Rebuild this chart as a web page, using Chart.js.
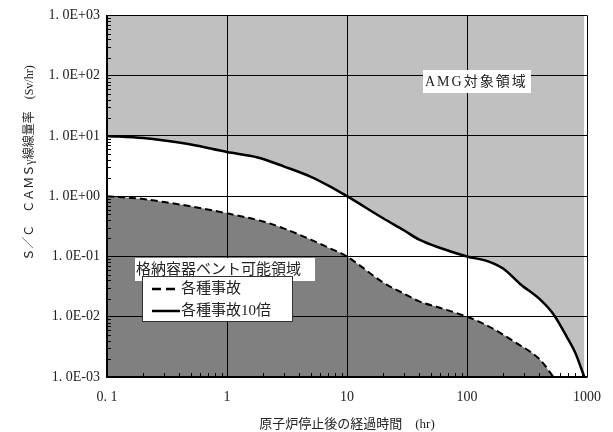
<!DOCTYPE html>
<html>
<head>
<meta charset="utf-8">
<script src="https://cdn.jsdelivr.net/npm/chart.js@4.4.1/dist/chart.umd.min.js"></script>
<style>
  html, body { margin: 0; padding: 0; background: #fff; }
  #wrap { width: 613px; height: 432px; }
</style>
</head>
<body>
<div id="wrap"><canvas id="chart" width="613" height="432"></canvas></div>
<script>
// data
const timeAll = [0.1, 0.2, 0.3, 0.5, 1, 2, 3, 5, 7, 10, 13, 20, 30, 40, 60, 100, 150, 240, 410, 525];
const doseAll = [1.0, 0.9, 0.8, 0.68, 0.52, 0.38, 0.29, 0.19, 0.14, 0.1, 0.069, 0.037, 0.024, 0.018, 0.014, 0.01, 0.007, 0.004, 0.0019, 0.001];
const time10x = [0.1, 0.2, 0.3, 0.5, 1, 1.8, 3, 5, 7, 10, 20, 30, 40, 60, 100, 150, 200, 277, 410, 525, 680, 800, 950];
const dose10x = [10, 9.2, 8.4, 7.2, 5.4, 4.4, 3.1, 2.1, 1.5, 1.0, 0.43, 0.27, 0.19, 0.138, 0.1, 0.083, 0.063, 0.035, 0.019, 0.011, 0.0046, 0.0025, 0.001];
const seriesNames = ["各種事故", "各種事故10倍"];
const xTicks = [0.1, 1, 10, 100, 1000];
const xTickLabels = ["0. 1", "1", "10", "100", "1000"];
const yTicks = [0.001, 0.01, 0.1, 1, 10, 100, 1000];
const yTickLabels = ["1. 0E-03", "1. 0E-02", "1. 0E-01", "1. 0E+00", "1. 0E+01", "1. 0E+02", "1. 0E+03"];
const regionLabels = ["AMG対象領域", "格納容器ベント可能領域"];
const xTitle = "原子炉停止後の経過時間　(hr)";
const yTitle = "Ｓ／Ｃ　ＣＡＭＳγ線線量率　(Sv/hr)";

const serif = "'Liberation Serif', 'DejaVu Serif', 'Noto Sans CJK JP', serif";
const textColor = "#222";

const minorTicks = {
  id: "minorTicks",
  afterDatasetsDraw(chart) {
    const ctx = chart.ctx;
    const xs = chart.scales.x, ys = chart.scales.y;
    const area = chart.chartArea;
    ctx.save();
    ctx.strokeStyle = "#000";
    ctx.lineWidth = 1;
    ctx.beginPath();
    for (let e = -3; e < 3; e++) {
      for (let m = 2; m <= 9; m++) {
        const py = Math.round(ys.getPixelForValue(m * Math.pow(10, e))) + 0.5;
        ctx.moveTo(area.left, py);
        ctx.lineTo(area.left + 4, py);
      }
    }
    for (let e = -1; e < 3; e++) {
      for (let m = 2; m <= 9; m++) {
        const px = Math.round(xs.getPixelForValue(m * Math.pow(10, e))) + 0.5;
        ctx.moveTo(px, area.bottom);
        ctx.lineTo(px, area.bottom - 4);
      }
    }
    ctx.stroke();
    ctx.restore();
  }
};

const labelsAndLegend = {
  id: "labelsAndLegend",
  afterDraw(chart) {
    const ctx = chart.ctx;
    ctx.save();
    ctx.textBaseline = "middle";

    // AMG region label
    ctx.fillStyle = "#fff";
    ctx.fillRect(423, 70, 108, 23);
    ctx.fillStyle = textColor;
    ctx.textAlign = "left";
    ctx.font = "14px " + serif;
    ctx.letterSpacing = "2px";
    ctx.fillText(regionLabels[0], 425, 82);
    ctx.letterSpacing = "0px";

    // vent region label
    ctx.font = "15px " + serif;
    ctx.fillStyle = "#fff";
    ctx.fillRect(135, 258, 180, 23);
    ctx.fillStyle = textColor;
    ctx.fillText(regionLabels[1], 136, 270);

    // legend box
    ctx.fillStyle = "#fff";
    ctx.fillRect(142.5, 276.5, 150, 45);
    ctx.strokeStyle = "#333";
    ctx.lineWidth = 1;
    ctx.strokeRect(142.5, 276.5, 150, 45);
    const rows = [289, 311];
    chart.data.datasets.forEach((ds, i) => {
      ctx.strokeStyle = "#000";
      ctx.lineWidth = 2.5;
      ctx.setLineDash(i === 0 ? [9, 5] : []);
      ctx.beginPath();
      ctx.moveTo(152, rows[i]);
      ctx.lineTo(180, rows[i]);
      ctx.stroke();
      ctx.setLineDash([]);
      ctx.fillStyle = textColor;
      ctx.fillText(ds.label, 181, rows[i]);
    });

    // y axis title
    ctx.translate(30, 163);
    ctx.rotate(-Math.PI / 2);
    ctx.textAlign = "center";
    ctx.font = "12px " + serif;
    ctx.fillStyle = textColor;
    ctx.fillText(yTitle, 0, 0);
    ctx.restore();
  }
};

const ctx = document.getElementById("chart").getContext("2d");
new Chart(ctx, {
  type: "line",
  data: {
    datasets: [
      {
        label: seriesNames[0],
        data: timeAll.map((t, i) => ({ x: t, y: doseAll[i] })),
        borderColor: "#000",
        borderWidth: 2,
        borderDash: [7, 4],
        backgroundColor: "#808080",
        fill: "start",
        pointRadius: 0,
        cubicInterpolationMode: "monotone"
      },
      {
        label: seriesNames[1],
        data: time10x.map((t, i) => ({ x: t, y: dose10x[i] })),
        borderColor: "#000",
        borderWidth: 2.5,
        backgroundColor: "#c0c0c0",
        fill: "end",
        pointRadius: 0,
        cubicInterpolationMode: "monotone"
      }
    ]
  },
  options: {
    responsive: false,
    animation: false,
    layout: { padding: { top: 13, right: 26, left: 0, bottom: 0 } },
    plugins: {
      legend: { display: false },
      tooltip: { enabled: false }
    },
    scales: {
      x: {
        type: "logarithmic",
        min: 0.1,
        max: 1000,
        afterBuildTicks: (scale) => { scale.ticks = xTicks.map(v => ({ value: v })); },
        afterFit: (scale) => { scale.height = 55; },
        ticks: {
          autoSkip: false,
          maxRotation: 0,
          padding: 12,
          color: textColor,
          font: { family: serif, size: 14 },
          callback: (v, i) => xTickLabels[i]
        },
        grid: { color: "#000", lineWidth: 1, drawTicks: false, z: 1 },
        border: { color: "#000", width: 1.5, z: 1 },
        title: {
          display: true,
          text: xTitle,
          color: textColor,
          font: { family: serif, size: 13 },
          padding: { top: 3, bottom: 0 }
        }
      },
      y: {
        type: "logarithmic",
        min: 0.001,
        max: 1000,
        afterBuildTicks: (scale) => { scale.ticks = yTicks.map(v => ({ value: v })); },
        afterFit: (scale) => { scale.width = 107; },
        ticks: {
          autoSkip: false,
          padding: 7,
          color: textColor,
          font: { family: serif, size: 14 },
          callback: (v, i) => yTickLabels[i]
        },
        grid: { color: "#000", lineWidth: 1, drawTicks: false, z: 1 },
        border: { color: "#000", width: 1.5, z: 1 }
      }
    }
  },
  plugins: [minorTicks, labelsAndLegend]
});
</script>
</body>
</html>
